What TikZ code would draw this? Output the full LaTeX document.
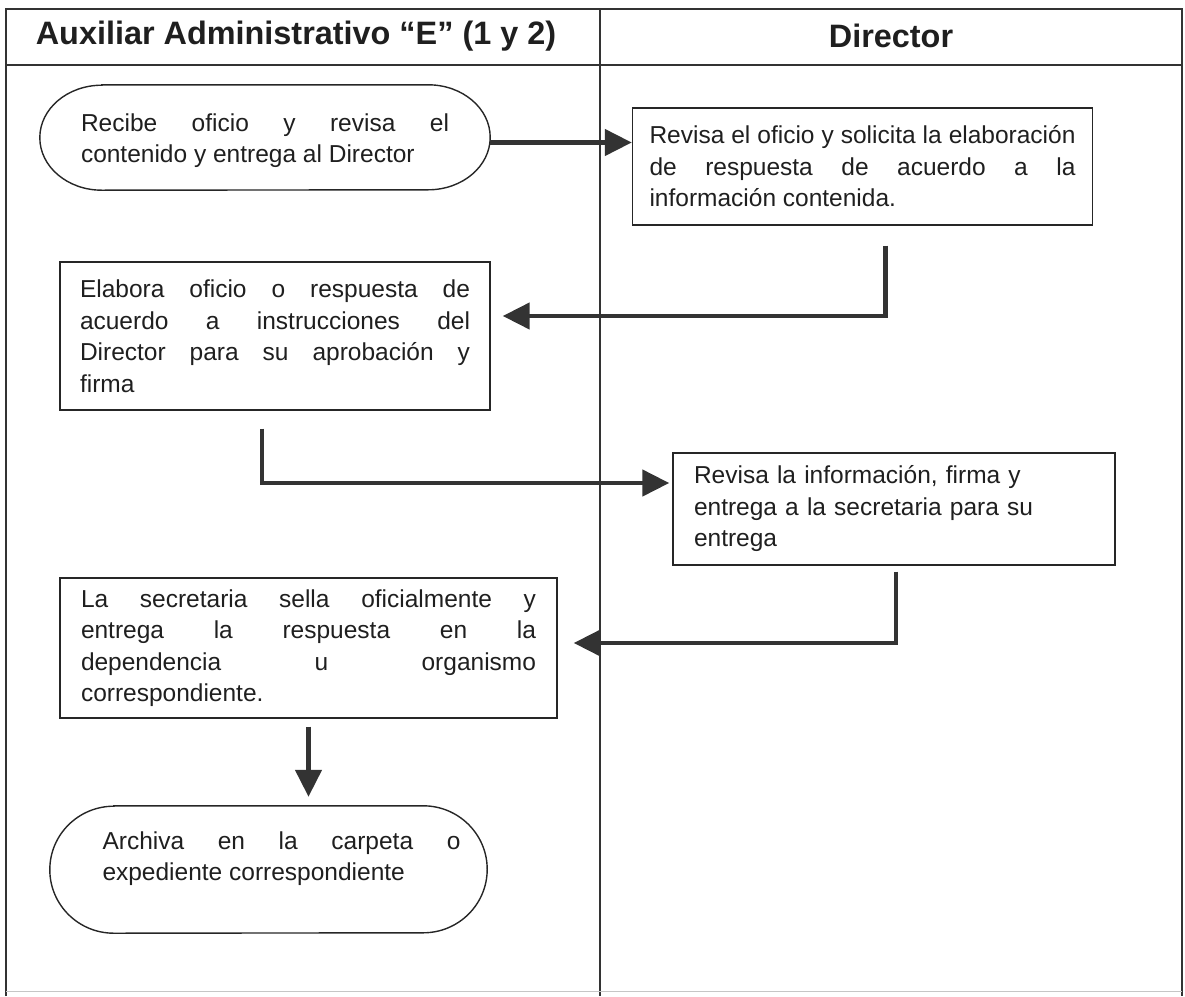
\documentclass[tikz,border=0pt]{standalone}
\usepackage{fontspec}
\setmainfont{Liberation Sans}
\usetikzlibrary{arrows.meta,calc}
\begin{document}
\begin{tikzpicture}[x=1pt,y=-1pt,
  frame/.style={draw=black!80, line width=1.3pt},
  bodyfont/.style={font=\fontsize{24.5}{31.5}\selectfont, text=black!88},
  box/.style={bodyfont, draw=black!85, line width=1.4pt, rectangle, inner ysep=0pt, align=justify},
  termshape/.style={draw=none, rectangle, inner sep=0pt},
  outline/.style={draw=black!85, line width=1.4pt},
  termtext/.style={bodyfont, inner sep=0pt, align=justify},
  flow/.style={draw=black!80, line width=4.6pt, -{Triangle[length=27pt,width=26pt]}},
  head/.style={font=\bfseries\fontsize{32.4}{38}\selectfont, text=black!88}
]
\useasboundingbox (0,0) rectangle (1185,996);

% swimlane table
\draw[frame] (6,996) -- (6,9) -- (1182,9) -- (1182,996);
\draw[frame] (6,65) -- (1182,65);
\draw[frame] (600,9) -- (600,996);
\draw[gray!45, line width=1pt] (6,991) -- (1182,991);

\node[head] (h1) at (296,36) {Auxiliar Administrativo “E” (1 y 2)};
\node[head] (h2) at (891,36) {Director};

% start terminal
\node[termshape, minimum width=450pt, minimum height=105pt] (t1) at (265,137.5) {};
\draw[outline] ([xshift=62pt]t1.north west) -- ([xshift=-62pt]t1.north east)
  arc[start angle=90, end angle=-90, x radius=62pt, y radius=52.5pt]
  -- ([xshift=62pt]t1.south west)
  arc[start angle=270, end angle=90, x radius=62pt, y radius=52.5pt] -- cycle;
\node[termtext, text width=368pt] (t1txt) at ($(t1.center)+(0,3)$)
  {Recibe oficio y revisa el\linebreak contenido y entrega al Director};

% process boxes
\node[box, text width=426pt, inner xsep=17pt, minimum height=117pt] (b2) at (862.5,166.5)
  {Revisa el oficio y solicita la elaboración\linebreak de respuesta de acuerdo a la\linebreak información contenida.};
\node[box, text width=390pt, inner xsep=20pt, minimum height=148pt] (b3) at (275,336)
  {Elabora oficio o respuesta de\linebreak acuerdo a instrucciones del\linebreak Director para su aprobación y\linebreak firma};
\node[box, align=left, text width=400pt, inner xsep=21pt, minimum height=112pt] (b4) at (894,509)
  {Revisa la información, firma y\\ entrega a la secretaria para su\\ entrega};
\node[box, text width=455pt, inner xsep=21pt, minimum height=140pt] (b5) at (308.5,648)
  {La secretaria sella oficialmente y\linebreak entrega la respuesta en la\linebreak dependencia u organismo\linebreak correspondiente.};

% end terminal
\node[termshape, minimum width=437pt, minimum height=127pt] (t2) at (268.5,869.5) {};
\draw[outline] ([xshift=64pt]t2.north west) -- ([xshift=-64pt]t2.north east)
  arc[start angle=90, end angle=-90, x radius=64pt, y radius=63.5pt]
  -- ([xshift=64pt]t2.south west)
  arc[start angle=270, end angle=90, x radius=64pt, y radius=63.5pt] -- cycle;
\node[termtext, text width=358pt] (t2txt) at ($(t2.center)+(13,-11)$)
  {Archiva en la carpeta o\linebreak expediente correspondiente};

% flow connectors
\draw[flow] ([yshift=-5pt]t1.east) -- ([yshift=-5pt]t1.east -| b2.west);
\draw[flow] ([xshift=23pt,yshift=-20pt]b2.south) |- ([xshift=12pt,yshift=20pt]b3.east);
\draw[flow] ([xshift=-13pt,yshift=-18pt]b3.south) |- ([xshift=-3pt,yshift=26pt]b4.west);
\draw[flow] ([xshift=2pt,yshift=-6pt]b4.south) |- ([xshift=16pt,yshift=5pt]b5.east);
\draw[flow] ([yshift=-8pt]b5.south) -- ($(b5.south |- t2.north)+(0,-9)$);
\end{tikzpicture}
\end{document}
